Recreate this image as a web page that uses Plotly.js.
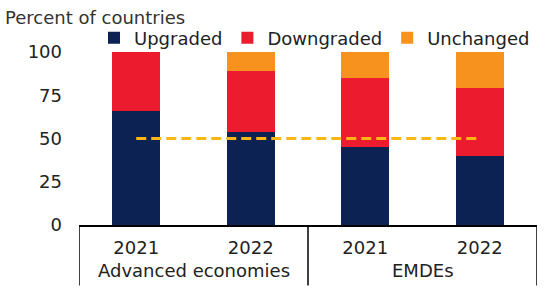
<!DOCTYPE html>
<html>
<head>
<meta charset="utf-8">
<script src="https://cdn.plot.ly/plotly-3.0.1.min.js"></script>
<style>
html,body{margin:0;padding:0;background:#fff;}
#chart{width:546px;height:289px;}
</style>
</head>
<body>
<div id="chart"></div>
<script>
// ---- data ----
var groups = ["Advanced economies", "EMDEs"];
var years = ["2021", "2022", "2021", "2022"];
var upgraded = [66, 54, 45, 40];
var downgraded = [34, 35, 40, 39];
var unchanged = [0, 11, 15, 21];
var reference = [50, 50];
var seriesNames = ["Upgraded", "Downgraded", "Unchanged"];
var yTicks = [0, 25, 50, 75, 100];

var idx = years.map(function (_, i) { return i; });
var colors = ["#0B2253", "#EC1C2E", "#F7921E"];
var font = "DejaVu Sans, sans-serif";
var textColor = "#222";

var series = [upgraded, downgraded, unchanged];
var traces = series.map(function (vals, k) {
  return {
    type: "bar",
    name: seriesNames[k],
    x: idx,
    y: vals,
    marker: {color: colors[k], line: {width: 0}},
    hoverinfo: "y+name"
  };
});
traces.push({
  type: "scatter",
  mode: "lines",
  x: [idx[0], idx[idx.length - 1]],
  y: reference,
  line: {color: "#FDB714", width: 3, dash: "10px,5px"},
  showlegend: false,
  hoverinfo: "skip"
});

var groupCenters = [0.5, 2.5];
var annotations = groups.map(function (g, i) {
  return {
    text: g, x: groupCenters[i], xref: "x", y: 0, yref: "paper",
    yanchor: "middle", yshift: -45, showarrow: false,
    font: {family: font, size: 18, color: textColor}
  };
});

var shapes = [-0.5, 1.5, 3.5].map(function (xv) {
  return {
    type: "line", xref: "x", yref: "paper", x0: xv, x1: xv, y0: 0, y1: -0.35,
    line: {color: "#000", width: 1.5}
  };
});

var mL = 79, mR = 9, mT = 52, mB = 64;
var plotW = 546 - mL - mR, plotH = 289 - mT - mB;
var layout = {
  width: 546, height: 289,
  margin: {l: mL, r: mR, t: mT, b: mB},
  paper_bgcolor: "#fff", plot_bgcolor: "#fff",
  barmode: "stack",
  bargap: 0.58,
  font: {family: font, size: 18, color: textColor},
  title: {
    text: "Percent of countries",
    x: 5 / 546, xref: "container", xanchor: "left",
    y: 1 - 18 / 289, yref: "container", yanchor: "middle",
    font: {family: font, size: 18, color: "#333"},
    automargin: false
  },
  showlegend: true,
  legend: {
    orientation: "h", x: (94 - mL) / plotW, xref: "paper", xanchor: "left",
    y: 1 + (mT - 38) / plotH, yref: "paper", yanchor: "middle",
    font: {family: font, size: 18, color: textColor},
    bgcolor: "rgba(0,0,0,0)", traceorder: "normal", itemwidth: 30,
    borderwidth: 0, tracegroupgap: 0
  },
  xaxis: {
    range: [-0.5, 3.5],
    tickvals: idx, ticktext: years,
    showgrid: false, zeroline: false,
    showline: true, linecolor: "#000", linewidth: 1.5,
    ticks: "", ticklabelstandoff: 6,
    tickfont: {family: font, size: 18, color: textColor},
    fixedrange: true
  },
  yaxis: {
    range: [0, 100],
    tickvals: yTicks,
    showgrid: false, zeroline: false, showline: false,
    ticks: "", ticklabelstandoff: 16,
    tickfont: {family: font, size: 18, color: textColor},
    fixedrange: true
  },
  annotations: annotations,
  shapes: shapes
};

Plotly.newPlot("chart", traces, layout, {displayModeBar: false, staticPlot: true});
</script>
</body>
</html>
